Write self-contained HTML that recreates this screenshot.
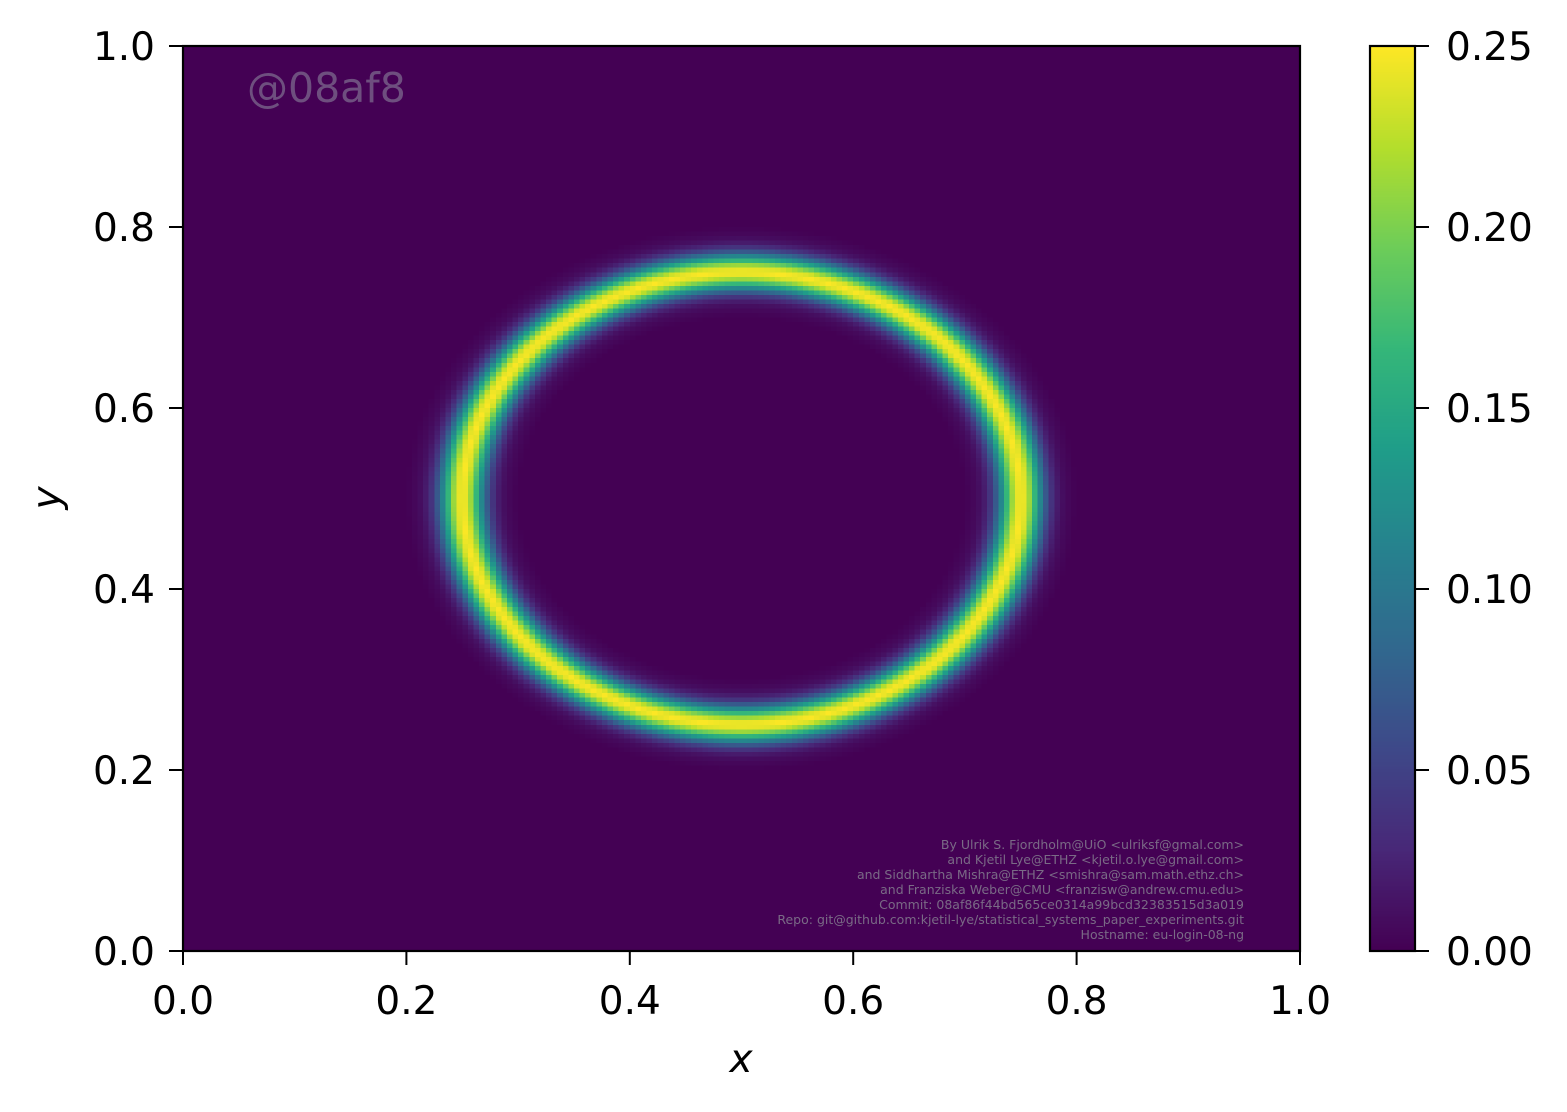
<!DOCTYPE html>
<html><head><meta charset="utf-8"><style>
body{margin:0;background:#fff;width:1567px;height:1112px;overflow:hidden;position:relative;font-family:"DejaVu Sans","Liberation Sans",sans-serif}
canvas{position:absolute}
#hm{image-rendering:crisp-edges;image-rendering:pixelated}
</style></head><body>
<canvas id="hm" width="200" height="200" style="left:183px;top:46px;width:1117px;height:905px"></canvas>
<canvas id="cb" width="1" height="256" style="left:1370px;top:46px;width:45px;height:905px"></canvas>
<svg id="ov" width="1567" height="1112" style="position:absolute;left:0;top:0">
<text x="247" y="102" font-size="41" fill="#6e4f7f">@08af8</text>
<g id="credits" font-size="12.5" fill="#7a6a86" text-anchor="end">
<text x="1244" y="849">By Ulrik S. Fjordholm@UiO &lt;ulriksf@gmal.com&gt;</text>
<text x="1244" y="864">and Kjetil Lye@ETHZ &lt;kjetil.o.lye@gmail.com&gt;</text>
<text x="1244" y="879">and Siddhartha Mishra@ETHZ &lt;smishra@sam.math.ethz.ch&gt;</text>
<text x="1244" y="894">and Franziska Weber@CMU &lt;franzisw@andrew.cmu.edu&gt;</text>
<text x="1244" y="909">Commit: 08af86f44bd565ce0314a99bcd32383515d3a019</text>
<text x="1244" y="924">Repo: git@github.com:kjetil-lye/statistical_systems_paper_experiments.git</text>
<text x="1244" y="939">Hostname: eu-login-08-ng</text>
</g>
<rect x="183" y="46" width="1117" height="905" fill="none" stroke="#000" stroke-width="2.2"/>
<rect x="1370" y="46" width="45" height="905" fill="none" stroke="#000" stroke-width="2.2"/>
<text x="741" y="1072" font-size="39" font-style="italic" text-anchor="middle">x</text>
<text transform="translate(60,498) rotate(-90)" font-size="39" font-style="italic" text-anchor="middle">y</text>
<g id="axes"></g>
</svg>
<script>
const xTicks=[0,0.2,0.4,0.6,0.8,1.0];
const yTicks=[0,0.2,0.4,0.6,0.8,1.0];
const cbTicks=[0,0.05,0.10,0.15,0.20,0.25];
const ringCenter=[0.5,0.5];
const ringRadius=0.25;
const profileOffsets=[0,0.005,0.01,0.015,0.02,0.025,0.03,0.035,0.04,0.045,0.05];
const profileValues=[0.25,0.235,0.19,0.14,0.09,0.05,0.025,0.012,0.006,0.003,0];
const vmin=0,vmax=0.25;
const vir=[[68,1,84],[72,40,120],[62,73,137],[49,104,142],[38,130,142],[31,158,137],[53,183,121],[109,205,89],[180,222,44],[253,231,37]];
function cmap(t){t=Math.max(0,Math.min(1,t));const p=t*(vir.length-1),i=Math.min(Math.floor(p),vir.length-2),f=p-i;return vir[i].map((c,k)=>Math.round(c+(vir[i+1][k]-c)*f));}
function profile(d){d=Math.abs(d);const n=profileOffsets.length;if(d>=profileOffsets[n-1])return profileValues[n-1];for(let i=0;i<n-1;i++){if(d<=profileOffsets[i+1]){const f=(d-profileOffsets[i])/(profileOffsets[i+1]-profileOffsets[i]);return profileValues[i]+(profileValues[i+1]-profileValues[i])*f;}}return 0;}
const N=200,hm=document.getElementById('hm').getContext('2d'),img=hm.createImageData(N,N);
for(let j=0;j<N;j++)for(let i=0;i<N;i++){const x=(i+0.5)/N,y=1-(j+0.5)/N;const r=Math.hypot(x-ringCenter[0],y-ringCenter[1]);const c=cmap((profile(r-ringRadius)-vmin)/(vmax-vmin));const o=(j*N+i)*4;img.data[o]=c[0];img.data[o+1]=c[1];img.data[o+2]=c[2];img.data[o+3]=255;}
hm.putImageData(img,0,0);
const cb=document.getElementById('cb').getContext('2d');
for(let j=0;j<256;j++){const c=cmap(1-j/255);cb.fillStyle=`rgb(${c})`;cb.fillRect(0,j,1,1);}
const X0=183,X1=1300,Y0=951,Y1=46;
const sx=v=>X0+v*(X1-X0), sy=v=>Y0-v*(Y0-Y1), sc=v=>Y0-(v-vmin)/(vmax-vmin)*(Y0-Y1);
const g=document.getElementById('axes'),NS='http://www.w3.org/2000/svg';
function mk(tag,a,txt){const e=document.createElementNS(NS,tag);for(const k in a)e.setAttribute(k,a[k]);if(txt!=null)e.textContent=txt;g.appendChild(e);return e;}
xTicks.forEach(v=>{const l=mk('line',{x1:sx(v),x2:sx(v),y1:951,y2:965,stroke:'#000','stroke-width':2});


const t=mk('text',{x:sx(v),y:1014,'font-size':39,'text-anchor':'middle'},v.toFixed(1));

});
yTicks.forEach(v=>{const l=mk('line',{x1:169,x2:183,y1:sy(v),y2:sy(v),stroke:'#000','stroke-width':2});


const t=mk('text',{x:155,y:sy(v)+14,'font-size':39,'text-anchor':'end'},v.toFixed(1));

});
cbTicks.forEach(v=>{const l=mk('line',{x1:1415,x2:1429,y1:sc(v),y2:sc(v),stroke:'#000','stroke-width':2});


const t=mk('text',{x:1446,y:sc(v)+14,'font-size':39},v.toFixed(2));

});
</script>
</body></html>
